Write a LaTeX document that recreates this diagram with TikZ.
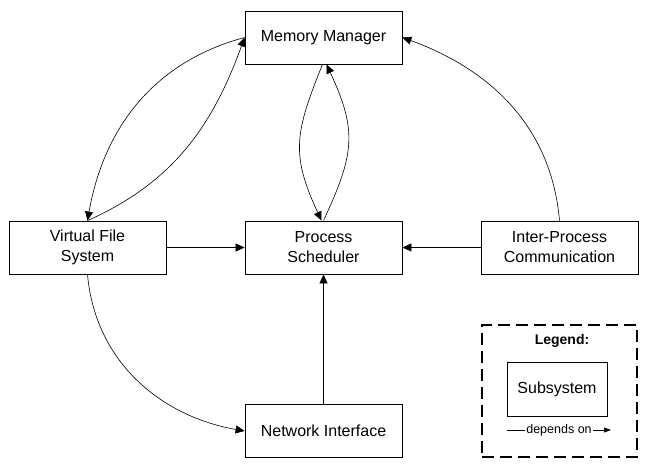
\documentclass[tikz,border=0pt]{standalone}
\usepackage{fontspec}
\setmainfont{Liberation Sans}
\usetikzlibrary{arrows.meta}
\tikzset{
subsys/.style={draw,line width=0.8pt,minimum width=157pt,minimum height=53pt,inner sep=0pt,align=center,font=\fontsize{16}{20}\selectfont},
dep/.style={-{Triangle[length=9pt,width=8pt]},line width=0.6pt}
}
\begin{document}
\begin{tikzpicture}[x=1pt,y=1pt]
\useasboundingbox (0,0) rectangle (655,469);
\def\blk#1#2#3#4{
\node[subsys] (#1) at (#2,#3) {#4};
}
\blk{mm}{323.5}{431.5}{Memory Manager}
\blk{vfs}{87.5}{221.5}{Virtual File\\System}
\blk{ps}{323.5}{221.5}{Process\\Scheduler}
\blk{ipc}{559.5}{221.5}{Inter-Process\\Communication}
\blk{ni}{323.5}{38}{Network Interface}
\draw[dep] (mm.west) to[out=195,in=80] (vfs.north);
\draw[dep] (vfs.north) to[out=24,in=-110] (mm.west);
\draw[dep] ([xshift=-1pt]mm.south) to[out=248,in=115,looseness=1.2] ([xshift=-2pt]ps.north);
\draw[dep] (ps.north) to[out=65,in=-65,looseness=1.2] ([xshift=3pt]mm.south);
\draw[dep] (ipc.north) to[out=95,in=-20] (mm.east);
\draw[dep] (vfs.south) to[out=-85,in=170] (ni.west);
\draw[dep] (vfs) -- (ps);
\draw[dep] (ipc) -- (ps);
\draw[dep] (ni) -- (ps);
\node[draw,line width=2.5pt,dash pattern=on 12pt off 6pt,minimum width=155pt,minimum height=132pt] (legend) at (559.5,78) {};
\node[font=\fontsize{14}{16}\selectfont\bfseries] (legtitle) at (562,128) {Legend:};
\node[subsys,minimum width=100pt,minimum height=54pt] (legsub) at (557,80) {Subsystem};
\coordinate (depa) at (507,39);
\coordinate (depb) at (611,39);
\draw[-{Triangle[length=7pt,width=5pt]},line width=0.6pt] (depa) -- node[fill=white,inner sep=1pt,font=\fontsize{12.5}{14}\selectfont] (deptext) {depends on} (depb);
\end{tikzpicture}
\end{document}
